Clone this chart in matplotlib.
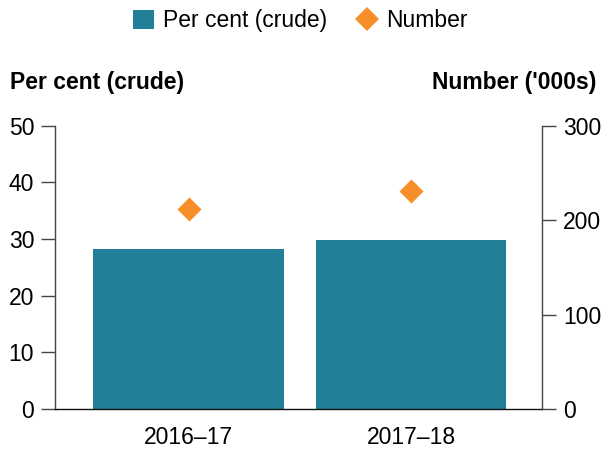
import matplotlib
matplotlib.use("Agg")
import matplotlib.pyplot as plt
from matplotlib.lines import Line2D
from matplotlib.patches import Patch

plt.rcParams['font.family'] = ['Liberation Sans', 'DejaVu Sans']

years = ["2016\u201317", "2017\u201318"]
per_cent = [28.2, 29.9]
number = [211.7, 230.9]

bar_col = "#237e97"
dot_col = "#f68f2a"
axis_col = "#444444"
fs = 16.5

fig = plt.figure(figsize=(6.01, 4.51), dpi=100)
ax = fig.add_axes([0.0915, 0.093, 0.811, 0.628])
ax2 = ax.twinx()

x = list(range(len(years)))
ax.bar(x, per_cent, width=0.855, color=bar_col, zorder=2)
ax2.scatter(x, number, marker="D", s=150, color=dot_col, zorder=3, linewidths=0)

ax.set_xlim(-0.6, 1.59)
ax.set_ylim(0, 50)
ax2.set_ylim(0, 300)
ax.set_yticks([0, 10, 20, 30, 40, 50])
ax2.set_yticks([0, 100, 200, 300])
ax.set_xticks(x)
ax.set_xticklabels(years)

for a in (ax, ax2):
    a.spines['top'].set_visible(False)
    for s in ('left', 'right', 'bottom'):
        a.spines[s].set_color(axis_col)
        a.spines[s].set_linewidth(1.0)
    a.tick_params(axis='y', length=10, width=1.0, color=axis_col, labelsize=fs, pad=5)
ax.spines['right'].set_visible(False)
ax2.spines['left'].set_visible(False)
ax2.spines['bottom'].set_visible(False)
ax.tick_params(axis='x', length=0, labelsize=fs, pad=12)
ax.spines['bottom'].set_color("#111111")

fig.text(0.017, 0.818, "Per cent (crude)", fontsize=fs, fontweight='bold', ha='left', va='center')
fig.text(0.993, 0.818, "Number ('000s)", fontsize=fs, fontweight='bold', ha='right', va='center')

handles = [Patch(facecolor=bar_col, edgecolor='none', label="Per cent (crude)"),
           Line2D([], [], marker='D', linestyle='none', markersize=12, color=dot_col,
                  markeredgewidth=0, label="Number")]
fig.legend(handles=handles, loc='center', bbox_to_anchor=(0.5, 0.954), ncol=2, frameon=False,
           fontsize=fs, handlelength=0.9, handleheight=0.9, handletextpad=0.4, columnspacing=1.3)

fig.savefig("out.png", dpi=100)
